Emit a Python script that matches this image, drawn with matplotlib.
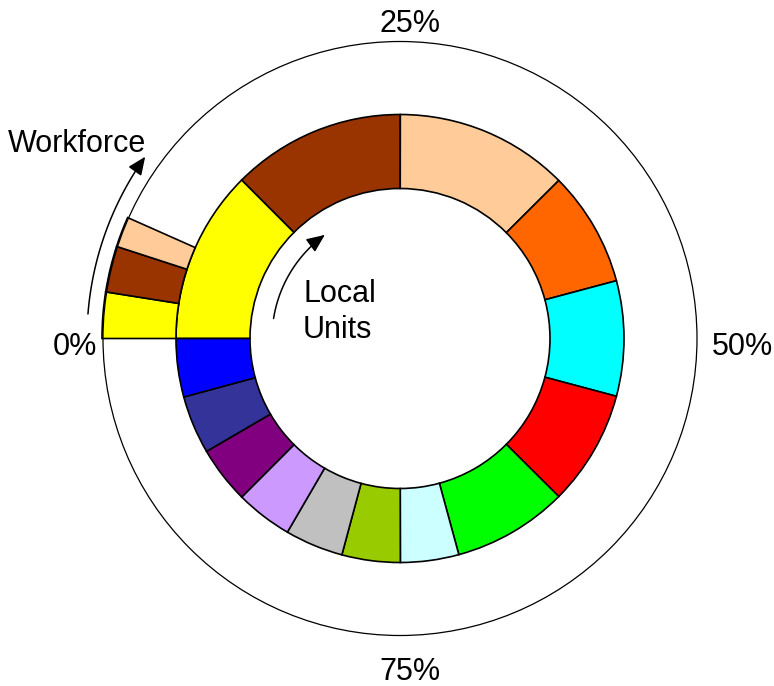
import numpy as np
import matplotlib.pyplot as plt
from matplotlib.patches import Circle, FancyArrowPatch
from matplotlib.path import Path

plt.rcParams['font.family'] = ['Liberation Sans', 'DejaVu Sans']

# --- DATA ---
# local units: share of each sector (%), clockwise from the 0% mark
unit_shares = [12.5, 12.5, 12.5, 8.3, 8.3, 8.3, 8.3, 4.2, 4.2, 4.2, 4.1, 4.1, 4.2, 4.2]
unit_colors = ['#FFFF00', '#993300', '#FFCC99', '#FF6600', '#00FFFF', '#FF0000',
               '#00FF00', '#CCFFFF', '#99CC00', '#C0C0C0', '#CC99FF', '#800080',
               '#333399', '#0000FF']

# workforce: only the first three sectors are shown (fraction of full circle)
workforce_shares = [0.025, 0.025, 0.0165]
workforce_colors = ['#FFFF00', '#993300', '#FFCC99']

tick_labels = ['0%', '25%', '50%', '75%']

# --- PLOT ---
fig = plt.figure(figsize=(7.74, 6.86), dpi=100)
ax = fig.add_axes([0, 0, 1, 1])

edge = dict(edgecolor='black', linewidth=1.2)

ax.pie(unit_shares, colors=unit_colors, radius=224, startangle=180,
       counterclock=False, wedgeprops=dict(width=74, **edge))
ax.pie(workforce_shares, colors=workforce_colors, radius=298, startangle=180,
       counterclock=False, normalize=False, wedgeprops=dict(width=74, **edge))

ax.add_patch(Circle((0, 0), 297, fill=False, edgecolor='black', linewidth=0.9))

# curved arrows
def arc_arrow(r, a0, a1):
    t = np.radians(np.linspace(a0, a1, 60))
    verts = np.column_stack([r * np.cos(t), r * np.sin(t)])
    arrow = FancyArrowPatch(path=Path(verts),
                            arrowstyle='-|>,head_length=0.55,head_width=0.24',
                            mutation_scale=20, color='black', linewidth=1.1,
                            shrinkA=0, shrinkB=0)
    ax.add_patch(arrow)

arc_arrow(313, 175.5, 144.5)
arc_arrow(128, 171, 126)

fs = 22
ax.text(-392, 186.8, 'Workforce', fontsize=fs, ha='left', va='baseline')
ax.text(-97, 36.5, 'Local', fontsize=fs, ha='left', va='baseline')
ax.text(-97, 0.5, 'Units', fontsize=fs, ha='left', va='baseline')

ax.text(-303, -16.5, tick_labels[0], fontsize=fs, ha='right', va='baseline')
ax.text(9.5, 306.5, tick_labels[1], fontsize=fs, ha='center', va='baseline')
ax.text(311.7, -16.5, tick_labels[2], fontsize=fs, ha='left', va='baseline')
ax.text(9.5, -341.5, tick_labels[3], fontsize=fs, ha='center', va='baseline')

ax.set_xlim(-400, 374)
ax.set_ylim(-347.5, 338.5)
ax.set_aspect('equal')
ax.axis('off')

plt.savefig('out.png', dpi=100)
